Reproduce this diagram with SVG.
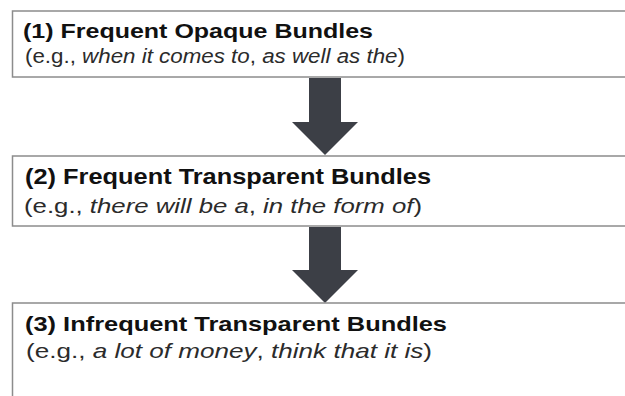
<svg xmlns="http://www.w3.org/2000/svg" width="625" height="396" viewBox="0 0 625 396">
  <style>
    .box { fill: #ffffff; stroke: #8c8c8c; stroke-width: 1.5; }
    .title { font-family: "Liberation Sans", Arial, sans-serif; font-weight: 700; fill: #111111; }
    .sub { font-family: "Liberation Sans", Arial, sans-serif; font-weight: 400; fill: #2b2b2b; }
    .ex { font-style: italic; }
    .arrow { fill: #3c3f46; }
  </style>

  <rect width="625" height="396" fill="#ffffff"/>

  <!-- downward block arrows between the stages -->
  <g id="connectors">
    <polygon class="arrow" points="309,78 341,78 341,122 358,122 325,155 292,122 309,122"/>
    <polygon class="arrow" points="309,227 341,227 341,270 358,270 325,303 292,270 309,270"/>
  </g>

  <g id="node-opaque">
    <rect class="box" x="12.5" y="11" width="640" height="66"/>
    <text class="title" x="23" y="38" font-size="21" textLength="350" lengthAdjust="spacingAndGlyphs">(1) Frequent Opaque Bundles</text>
    <text class="sub" x="25" y="63" font-size="20" textLength="380" lengthAdjust="spacingAndGlyphs">(e.g., <tspan class="ex">when it comes to</tspan>, <tspan class="ex">as well as the</tspan>)</text>
  </g>

  <g id="node-transparent">
    <rect class="box" x="12.5" y="156" width="640" height="70"/>
    <text class="title" x="25" y="184" font-size="22" textLength="406" lengthAdjust="spacingAndGlyphs">(2) Frequent Transparent Bundles</text>
    <text class="sub" x="24" y="213" font-size="21" textLength="398" lengthAdjust="spacingAndGlyphs">(e.g., <tspan class="ex">there will be a</tspan>, <tspan class="ex">in the form of</tspan>)</text>
  </g>

  <g id="node-infrequent">
    <rect class="box" x="12.5" y="303" width="640" height="120"/>
    <text class="title" x="25" y="331" font-size="21" textLength="422" lengthAdjust="spacingAndGlyphs">(3) Infrequent Transparent Bundles</text>
    <text class="sub" x="26" y="358" font-size="21" textLength="406" lengthAdjust="spacingAndGlyphs">(e.g., <tspan class="ex">a lot of money</tspan>, <tspan class="ex">think that it is</tspan>)</text>
  </g>
</svg>
